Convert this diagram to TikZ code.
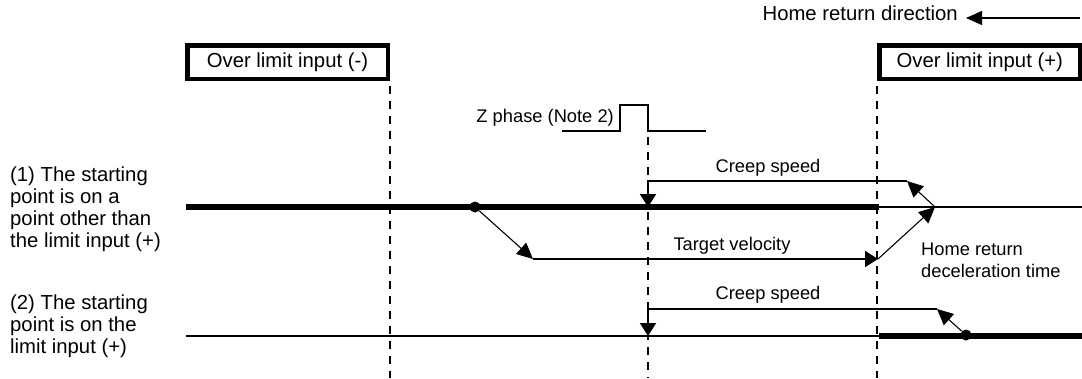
\documentclass[tikz,border=0pt]{standalone}
\usepackage{fontspec}
\setmainfont{Liberation Sans}
\usetikzlibrary{arrows.meta}
\begin{document}
\begin{tikzpicture}[x=1pt,y=-1pt,
  big/.style={font=\fontsize{20.3}{22}\selectfont},
  small/.style={font=\fontsize{18.3}{22}\selectfont},
  limbox/.style={draw,line width=4.5pt,minimum width=200.5pt,minimum height=33.5pt,inner sep=0pt,big},
  guide/.style={line width=2.1pt,dash pattern=on 8pt off 7pt},
  thickline/.style={line width=6pt},
  thinline/.style={line width=1.6pt},
  speed/.style={line width=2pt,-{Triangle[length=13pt,width=16pt]}},
  ramp/.style={line width=1.1pt,-{Triangle[length=16pt,width=15pt]}},
  dot/.style={circle,fill,inner sep=0pt,minimum size=11pt},
  lbl/.style={inner sep=0pt}
]
\useasboundingbox (0,0) rectangle (1082,378);

% direction
\node[big,lbl,anchor=mid east] (hrd) at (958,18) {Home return direction};
\coordinate (hrdend) at (1080,18);
\draw[line width=1.3pt,-{Triangle[length=16pt,width=14pt]}] (hrdend) -- ([xshift=8pt]hrd.mid east);

% limit boxes
\node[limbox] (boxm) at (287.5,62) {Over limit input (-)};
\node[limbox] (boxp) at (979.75,62) {Over limit input (+)};
\draw[guide] ([yshift=-5pt]boxm.south east) -- (boxm.south east |- 0,378);
\draw[guide] ([yshift=-5pt]boxp.south west) -- (boxp.south west |- 0,378);

% Z phase
\coordinate (zA) at (562,131);
\coordinate (zB) at (620,131);
\coordinate (zC) at (620,105);
\coordinate (zD) at (648,105);
\coordinate (zE) at (648,131);
\coordinate (zF) at (706,131);
\draw[line width=1.8pt] (zA) -- (zB) -- (zC) -- (zD) -- (zE) -- (zF);
\node[small,lbl,anchor=mid east] (zlab) at (614,120) {Z phase (Note 2)};
\draw[guide] ([yshift=-6pt]zE) -- (zE |- 0,378);

% left labels
\node[big,lbl,align=left,anchor=north west] (c1) at (10,167) {(1) The starting\\point is on a\\point other than\\the limit input (+)};
\node[big,lbl,align=left,anchor=north west] (c2) at (10,295) {(2) The starting\\point is on the\\limit input (+)};

% case 1
\coordinate (L1a) at (186,207);
\coordinate (L1b) at (879,207);
\coordinate (L1c) at (1082,207);
\draw[thickline] (L1a) -- (L1b);
\draw[thinline] (L1b) -- (L1c);
\node[dot] (d1) at (475,207) {};
\coordinate (tvA) at (533,259);
\coordinate (tvB) at (878,259);
\coordinate (pk1) at (935,207);
\coordinate (cs1) at (907,181);
\coordinate (cz1) at (648,181);
\coordinate (cy1) at (648,207);
\draw[ramp] (d1) -- (tvA);
\draw[speed] (tvA) -- (tvB);
\draw[ramp] (tvB) -- (pk1);
\draw[ramp] (pk1) -- (cs1);
\draw[speed] (cs1) -- (cz1) -- (cy1);
\node[small,lbl,anchor=mid] (cslab1) at (768,170) {Creep speed};
\node[small,lbl,anchor=mid] (tvlab) at (732,248) {Target velocity};
\node[small,lbl,align=left,anchor=north west] (declab) at (921,243) {Home return\\deceleration time};

% case 2
\coordinate (L2a) at (186,336);
\coordinate (L2b) at (879,336);
\coordinate (L2c) at (1082,336);
\draw[thinline] (L2a) -- (L2b);
\draw[thickline] (L2b) -- (L2c);
\node[dot] (d2) at (966,335) {};
\coordinate (cs2) at (937,309);
\coordinate (cz2) at (648,309);
\coordinate (cy2) at (648,336);
\draw[ramp] (d2) -- (cs2);
\draw[speed] (cs2) -- (cz2) -- (cy2);
\node[small,lbl,anchor=mid] (cslab2) at (768,297) {Creep speed};
\end{tikzpicture}
\end{document}
